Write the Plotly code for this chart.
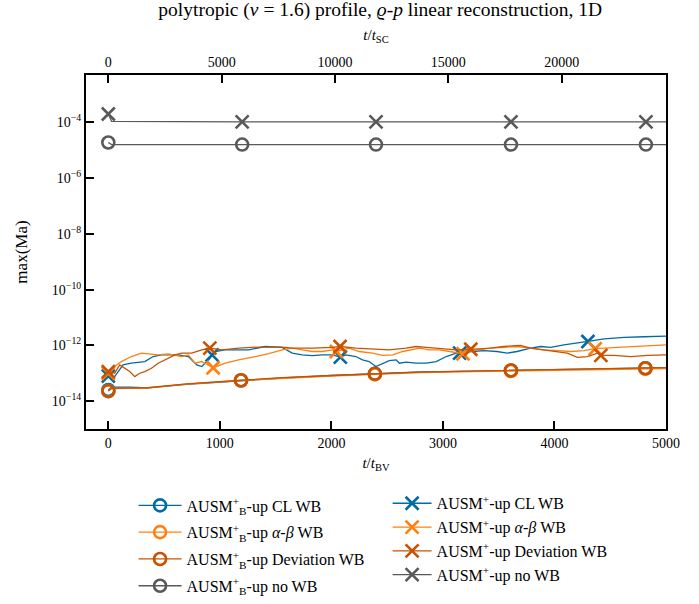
import plotly.graph_objects as go

# ---------------- data ----------------
TSC_PER_TBV = 4.92  # conversion t/t_BV -> t/t_SC (top axis)

# AUSM_B^+-up (well-balanced variants, smooth curves)
b_cl_t = [0, 30, 200, 350, 700, 1190, 1560, 2000, 2390, 2800, 3270, 3610, 4000, 4400, 4815, 5000]
b_cl_v = [2.5e-14, 3.16e-14, 3.16e-14, 3.0e-14, 3.98e-14, 5.5e-14, 6.76e-14, 8.3e-14,
          9.55e-14, 1.12e-13, 1.2e-13, 1.26e-13, 1.35e-13, 1.45e-13, 1.51e-13, 1.58e-13]
b_cl_mk = [0, 5, 8, 11, 14]

b_ab_t = [0, 30, 350, 700, 1190, 1560, 2000, 2390, 2800, 3270, 3610, 4000, 4400, 4815, 5000]
b_ab_v = [2.29e-14, 2.82e-14, 2.95e-14, 4.07e-14, 5.5e-14, 6.6e-14, 7.94e-14, 9.12e-14,
          1.05e-13, 1.15e-13, 1.2e-13, 1.26e-13, 1.35e-13, 1.45e-13, 1.48e-13]
b_ab_mk = [0, 4, 7, 10, 13]

b_dev_t = [0, 30, 350, 700, 1190, 1560, 2000, 2390, 2800, 3270, 3610, 4000, 4400, 4815, 5000]
b_dev_v = [2.29e-14, 2.88e-14, 3.02e-14, 4.17e-14, 5.62e-14, 6.92e-14, 8.32e-14, 9.55e-14,
           1.1e-13, 1.2e-13, 1.26e-13, 1.32e-13, 1.41e-13, 1.51e-13, 1.58e-13]
b_dev_mk = [0, 4, 7, 10, 13]

b_no_t = [0, 30, 1200, 2400, 3610, 4820, 5000]
b_no_v = [1.9e-5, 1.6e-5, 1.6e-5, 1.6e-5, 1.6e-5, 1.6e-5, 1.6e-5]
b_no_mk = [0, 2, 3, 4, 5]

# AUSM^+-up (noisy curves)
p_cl_t = [0, 57, 132, 207, 327, 402, 477, 628, 718, 793, 838, 913, 930, 958, 1048, 1258,
          1408, 1559, 1649, 1739, 1829, 1919, 2009, 2080, 2129, 2219, 2279, 2339, 2399,
          2459, 2519, 2580, 2610, 2670, 2760, 2850, 2940, 3030, 3120, 3150, 3210, 3270,
          3365, 3485, 3575, 3665, 3785, 3875, 3965, 4085, 4205, 4300, 4445, 4625, 4805, 5000]
p_cl_v = [7.94e-14, 7.59e-14, 2.0e-13, 2.29e-13, 2.63e-13, 3.98e-13, 4.57e-13, 4.57e-13,
          3.98e-13, 2.0e-13, 1.74e-13, 3.47e-13, 4.57e-13, 6.03e-13, 6.92e-13, 6.92e-13,
          9.12e-13, 8.51e-13, 5.25e-13, 4.57e-13, 4.27e-13, 4.57e-13, 4.57e-13, 3.8e-13,
          4.57e-13, 3.98e-13, 3.02e-13, 2.63e-13, 1.74e-13, 2.29e-13, 2.82e-13, 3.02e-13,
          2.29e-13, 2.51e-13, 2.29e-13, 2.29e-13, 2.63e-13, 3.98e-13, 5.25e-13, 5.25e-13,
          6.03e-13, 6.03e-13, 6.46e-13, 6.03e-13, 5.25e-13, 6.03e-13, 7.94e-13, 9.12e-13,
          8.51e-13, 1.05e-12, 1.2e-12, 1.38e-12, 1.7e-12, 1.95e-12, 2.04e-12, 2.14e-12]
p_cl_mk = [0, 12, 23, 39, 51]

p_ab_t = [0, 57, 117, 207, 297, 357, 447, 537, 658, 718, 778, 838, 898, 940, 1048, 1168,
          1318, 1438, 1559, 1649, 1739, 1829, 1919, 2009, 2045, 2159, 2249, 2369, 2459,
          2550, 2640, 2730, 2790, 2880, 2970, 3060, 3180, 3305, 3425, 3545, 3665, 3785,
          3905, 4025, 4145, 4265, 4365, 4565, 4745, 5000]
p_ab_v = [1.0e-13, 1.74e-13, 2.63e-13, 3.98e-13, 5.25e-13, 4.9e-13, 4.57e-13, 4.9e-13,
          3.98e-13, 4.57e-13, 2.29e-13, 2.63e-13, 2.0e-13, 1.58e-13, 2.29e-13, 3.02e-13,
          3.98e-13, 5.01e-13, 6.92e-13, 7.94e-13, 6.92e-13, 6.03e-13, 6.03e-13, 6.92e-13,
          6.03e-13, 7.94e-13, 6.03e-13, 5.25e-13, 4.37e-13, 4.57e-13, 6.03e-13, 6.92e-13,
          7.94e-13, 6.92e-13, 6.92e-13, 6.03e-13, 5.01e-13, 6.92e-13, 7.94e-13, 8.51e-13,
          9.12e-13, 7.94e-13, 6.92e-13, 6.46e-13, 6.03e-13, 6.46e-13, 7.59e-13, 8.51e-13,
          9.12e-13, 1.05e-12]
p_ab_mk = [0, 13, 24, 36, 46]

p_dev_t = [0, 57, 102, 147, 192, 237, 282, 327, 387, 447, 508, 598, 658, 748, 838, 910,
           1018, 1168, 1348, 1558, 1649, 1829, 2009, 2078, 2219, 2369, 2519, 2670, 2760,
           2850, 2970, 3120, 3250, 3425, 3545, 3695, 3785, 3905, 4025, 4115, 4205, 4295,
           4385, 4416, 4535, 4685, 4835, 5000]
p_dev_v = [1.15e-13, 1.0e-13, 2.0e-13, 1.51e-13, 1.15e-13, 7.59e-14, 1.0e-13, 1.15e-13,
           1.51e-13, 2.29e-13, 3.02e-13, 4.57e-13, 5.25e-13, 5.25e-13, 6.92e-13, 7.94e-13,
           6.92e-13, 7.94e-13, 8.71e-13, 8.71e-13, 7.94e-13, 7.94e-13, 8.51e-13, 9.12e-13,
           7.94e-13, 7.41e-13, 6.92e-13, 7.94e-13, 9.12e-13, 8.51e-13, 7.94e-13, 6.92e-13,
           7.24e-13, 7.94e-13, 9.12e-13, 1.0e-12, 7.94e-13, 6.92e-13, 6.03e-13, 5.25e-13,
           3.72e-13, 3.98e-13, 5.25e-13, 4.37e-13, 4.37e-13, 3.98e-13, 4.37e-13, 4.57e-13]
p_dev_mk = [0, 15, 23, 32, 43]

p_no_t = [0, 30, 1200, 2400, 3610, 4820, 5000]
p_no_v = [2.0e-4, 1.08e-4, 1.05e-4, 1.05e-4, 1.05e-4, 1.05e-4, 1.05e-4]
p_no_mk = [0, 2, 3, 4, 5]

xticks_bv = [0, 1000, 2000, 3000, 4000, 5000]
xticks_sc = [0, 5000, 10000, 15000, 20000]
xticktext_sc = ["0", "5000", "10000", "15000", "20000"]
yticks = [1e-14, 1e-12, 1e-10, 1e-8, 1e-6, 1e-4]
yticktext = ["10<sup>−14</sup>", "10<sup>−12</sup>", "10<sup>−10</sup>",
             "10<sup>−8</sup>", "10<sup>−6</sup>", "10<sup>−4</sup>"]

BLUE = "#006BA4"
ORANGE = "#FF800E"
DORANGE = "#C85200"
GRAY = "#595959"
FONT = "Liberation Serif, Times New Roman, serif"

series = [
    ("AUSM<sup>+</sup><sub>B</sub>-up CL WB", b_cl_t, b_cl_v, b_cl_mk, BLUE, "circle-open", "legend"),
    ("AUSM<sup>+</sup><sub>B</sub>-up <i>α</i>-<i>β</i> WB", b_ab_t, b_ab_v, b_ab_mk, ORANGE, "circle-open", "legend"),
    ("AUSM<sup>+</sup><sub>B</sub>-up Deviation WB", b_dev_t, b_dev_v, b_dev_mk, DORANGE, "circle-open", "legend"),
    ("AUSM<sup>+</sup><sub>B</sub>-up no WB", b_no_t, b_no_v, b_no_mk, GRAY, "circle-open", "legend"),
    ("AUSM<sup>+</sup>-up CL WB", p_cl_t, p_cl_v, p_cl_mk, BLUE, "x-thin-open", "legend2"),
    ("AUSM<sup>+</sup>-up <i>α</i>-<i>β</i> WB", p_ab_t, p_ab_v, p_ab_mk, ORANGE, "x-thin-open", "legend2"),
    ("AUSM<sup>+</sup>-up Deviation WB", p_dev_t, p_dev_v, p_dev_mk, DORANGE, "x-thin-open", "legend2"),
    ("AUSM<sup>+</sup>-up no WB", p_no_t, p_no_v, p_no_mk, GRAY, "x-thin-open", "legend2"),
]

fig = go.Figure()
for k, (name, t, v, mk, col, sym, leg) in enumerate(series):
    msize = 12 if sym == "circle-open" else 13
    grp = "g%d" % k
    fig.add_trace(go.Scatter(x=t, y=v, mode="lines", line=dict(color=col, width=1.3),
                             showlegend=False, hoverinfo="skip", legendgroup=grp))
    fig.add_trace(go.Scatter(x=[t[i] for i in mk], y=[v[i] for i in mk], mode="markers",
                             marker=dict(symbol=sym, size=msize, color=col,
                                         line=dict(color=col, width=2.6)),
                             showlegend=False, hoverinfo="skip", legendgroup=grp))
    fig.add_trace(go.Scatter(x=[None], y=[None], mode="lines+markers", name=name,
                             line=dict(color=col, width=1.3),
                             marker=dict(symbol=sym, size=msize, color=col,
                                         line=dict(color=col, width=2.6)),
                             legend=leg, legendgroup=grp))

# invisible trace so the top axis is drawn
fig.add_trace(go.Scatter(x=[None], y=[None], xaxis="x2", yaxis="y", showlegend=False,
                         hoverinfo="skip"))

axis_common = dict(showline=True, linewidth=2, linecolor="black", ticks="inside",
                   ticklen=8, tickwidth=1.5, tickcolor="black", showgrid=False,
                   zeroline=False, tickfont=dict(family=FONT, size=14, color="black"))

fig.update_layout(
    width=699, height=604,
    margin=dict(l=86, r=33, t=75, b=175, autoexpand=False),
    paper_bgcolor="white", plot_bgcolor="white",
    font=dict(family=FONT, size=14, color="black"),
    title=dict(text="polytropic (<i>ν</i> = 1.6) profile, <i>ϱ</i>-<i>p</i> linear reconstruction, 1D",
               x=0.544, xanchor="center", y=0.985, yanchor="middle",
               font=dict(family=FONT, size=19.5, color="black")),
    xaxis=dict(range=[-200, 5000], tickvals=xticks_bv,
               title=dict(text="<i>t</i>/<i>t</i><sub>BV</sub>", standoff=8,
                          font=dict(family=FONT, size=15)),
               **axis_common),
    xaxis2=dict(range=[-200 * TSC_PER_TBV, 5000 * TSC_PER_TBV], tickvals=xticks_sc,
                ticktext=xticktext_sc, overlaying="x", side="top", anchor="y",
                title=dict(text="<i>t</i>/<i>t</i><sub>SC</sub>", standoff=11,
                           font=dict(family=FONT, size=15)),
                **axis_common),
    yaxis=dict(type="log", range=[-15, -2.3], tickvals=yticks, ticktext=yticktext,
               mirror=True,
               title=dict(text="max(Ma)", standoff=20, font=dict(family=FONT, size=17)),
               **axis_common),
    legend=dict(x=0.082, y=-0.168, xanchor="left", yanchor="top",
                font=dict(family=FONT, size=16, color="black"), itemwidth=43,
                bgcolor="rgba(0,0,0,0)", traceorder="grouped", tracegroupgap=3),
    legend2=dict(x=0.52, y=-0.162, xanchor="left", yanchor="top",
                 font=dict(family=FONT, size=16, color="black"), itemwidth=39,
                 bgcolor="rgba(0,0,0,0)", traceorder="grouped", tracegroupgap=0),
)

fig.write_html("out.html", config={"displayModeBar": False},
               post_script="document.body.style.margin='0px';")
